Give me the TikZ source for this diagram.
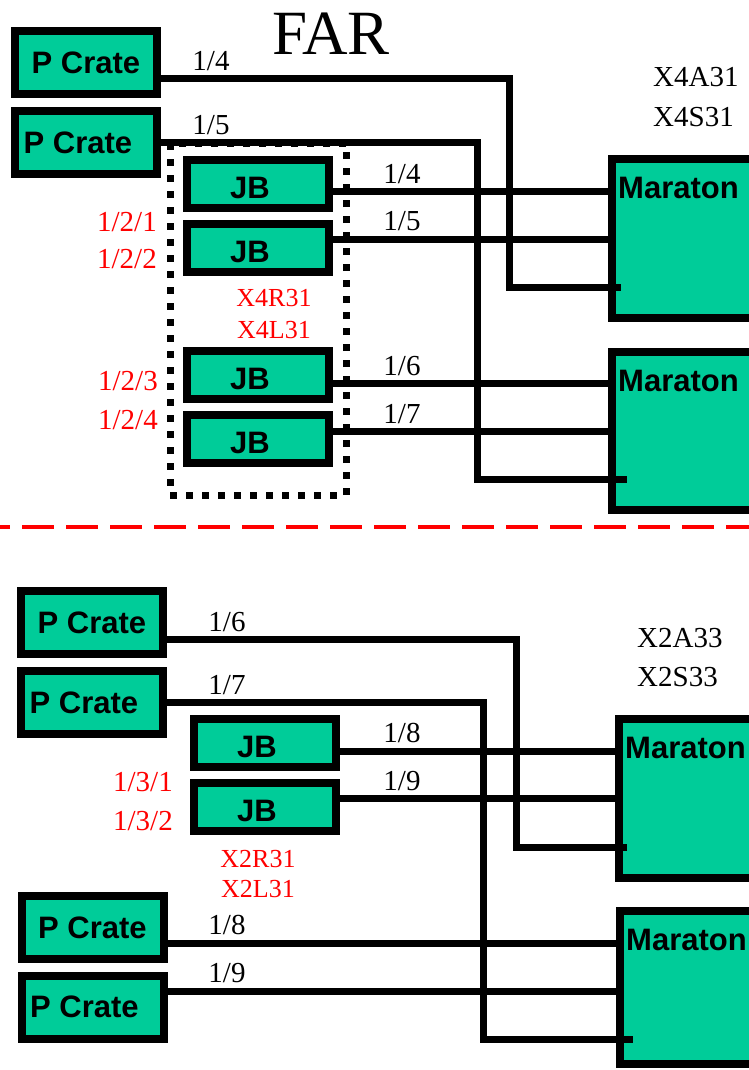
\documentclass[tikz,border=0pt]{standalone}
\usepackage{fontspec}
\setmainfont{Liberation Serif}
\setsansfont{Liberation Sans}
\usepackage{tikz}
\definecolor{crategreen}{HTML}{00CC99}

\begin{document}
\begin{tikzpicture}[x=1pt,y=-1pt]
		\tikzstyle{box}=[draw,line width=8pt,fill=crategreen,inner sep=0pt,font=\fontsize{31}{31}\selectfont\sffamily\bfseries]
		\tikzstyle{crate}=[box,minimum width=142pt,minimum height=63pt]
		\tikzstyle{lowcrate}=[crate,execute at begin node=\hspace*{-16pt}]
		\tikzstyle{jbox}=[box,minimum width=142pt,minimum height=48pt,text height=30pt,execute at begin node=\hspace*{-16pt}]
		\tikzstyle{maraton}=[box,minimum width=192pt,label={[anchor=north west,inner sep=0pt,xshift=10pt,yshift=-22pt,font=\fontsize{31}{31}\selectfont\sffamily\bfseries]north west:Maraton}]
		\tikzstyle{wire}=[line width=7pt]
		\tikzstyle{num}=[font=\fontsize{29}{29}\selectfont,inner sep=0pt,anchor=base]
		\tikzstyle{rednum}=[num,text=red,anchor=base east]
		\tikzstyle{redname}=[font=\fontsize{26}{26}\selectfont,inner sep=0pt,text=red,anchor=base]

		\useasboundingbox (0,0) rectangle (749,1070);
		\clip (0,0) rectangle (749,1070);

		\node[num](far) at (331,55){\fontsize{63}{63}\selectfont FAR};

		% upper half
		\node[crate](pc1) at (86,63){P Crate};
		\node[lowcrate](pc2) at (86,142.5){P Crate};
		\node[jbox](jb1) at (258,183.5){JB};
		\node[jbox](jb2) at (258,247.5){JB};
		\node[jbox](jb3) at (258,375){JB};
		\node[jbox](jb4) at (258,439){JB};
		\node[maraton,minimum height=159pt](mar1) at (708,238.5){};
		\node[maraton,minimum height=158pt](mar2) at (708,431){};

		\draw[line width=7pt,dash pattern=on 7pt off 9pt] (170,143) rectangle (346,495);

		\coordinate (m1in) at ([shift={(13pt,-48.5pt)}]mar1.west);
		\coordinate (m2in) at ([shift={(19pt,-48pt)}]mar2.west);
		\draw[wire] ([yshift=-16pt]pc1.east) -- ++(348,0) |- (m1in);
		\draw[wire] (pc2.east) -- ++(316,0) |- (m2in);
		\draw[wire] ([yshift=-7.5pt]jb1.east) -- ([yshift=-7.5pt]jb1.east -| mar1.west);
		\draw[wire] ([yshift=8.5pt]jb2.east) -- ([yshift=8.5pt]jb2.east -| mar1.west);
		\draw[wire] ([yshift=-8pt]jb3.east) -- ([yshift=-8pt]jb3.east -| mar2.west);
		\draw[wire] ([yshift=8pt]jb4.east) -- ([yshift=8pt]jb4.east -| mar2.west);

		\node[num](n14a) at (211,71){1/4};
		\node[num](n15a) at (211,135){1/5};
		\node[num](n14b) at (402,183){1/4};
		\node[num](n15b) at (402,230){1/5};
		\node[num](n16a) at (402,375){1/6};
		\node[num](n17a) at (402,423){1/7};
		\node[num,anchor=base west](x4a) at (653,87){X4A31};
		\node[num,anchor=base west](x4s) at (653,126){X4S31};
		\node[rednum](r121) at (157,231){1/2/1};
		\node[rednum](r122) at (157,268){1/2/2};
		\node[rednum](r123) at (158,390){1/2/3};
		\node[rednum](r124) at (158,429){1/2/4};
		\node[redname](x4r) at (274,306){X4R31};
		\node[redname](x4l) at (274,338){X4L31};

		\draw[red,line width=4pt,dash pattern=on 32pt off 12pt,dash phase=22pt] (0,527) -- (749,527);

		% lower half
		\node[crate](pc3) at (92,622.5){P Crate};
		\node[lowcrate](pc4) at (92,702.5){P Crate};
		\node[jbox](jb5) at (265,743){JB};
		\node[jbox](jb6) at (265,807){JB};
		\node[crate](pc5) at (92.5,927.5){P Crate};
		\node[lowcrate](pc6) at (92.5,1007){P Crate};
		\node[maraton,minimum height=159pt](mar3) at (715,798.5){};
		\node[maraton,minimum height=153pt](mar4) at (716,987.5){};

		\coordinate (m3in) at ([shift={(12pt,-48.5pt)}]mar3.west);
		\coordinate (m4in) at ([shift={(17pt,-51.5pt)}]mar4.west);
		\draw[wire] ([yshift=-16.5pt]pc3.east) -- ++(349,0) |- (m3in);
		\draw[wire] (pc4.east) -- ++(316,0) |- (m4in);
		\draw[wire] ([yshift=-8pt]jb5.east) -- ([yshift=-8pt]jb5.east -| mar3.west);
		\draw[wire] ([yshift=9pt]jb6.east) -- ([yshift=9pt]jb6.east -| mar3.west);
		\draw[wire] ([yshift=-15.5pt]pc5.east) -- ([yshift=-15.5pt]pc5.east -| mar4.west);
		\draw[wire] ([yshift=16pt]pc6.east) -- ([yshift=16pt]pc6.east -| mar4.west);

		\node[num](n16b) at (227,631){1/6};
		\node[num](n17b) at (227,694){1/7};
		\node[num](n18a) at (402,742){1/8};
		\node[num](n19a) at (402,790){1/9};
		\node[num](n18b) at (227,934){1/8};
		\node[num](n19b) at (227,982){1/9};
		\node[num,anchor=base west](x2a) at (637,647){X2A33};
		\node[num,anchor=base west](x2s) at (637,686){X2S33};
		\node[rednum](r131) at (173,791){1/3/1};
		\node[rednum](r132) at (173,830){1/3/2};
		\node[redname](x2r) at (258,867){X2R31};
		\node[redname](x2l) at (258,897){X2L31};
\end{tikzpicture}
\end{document}
